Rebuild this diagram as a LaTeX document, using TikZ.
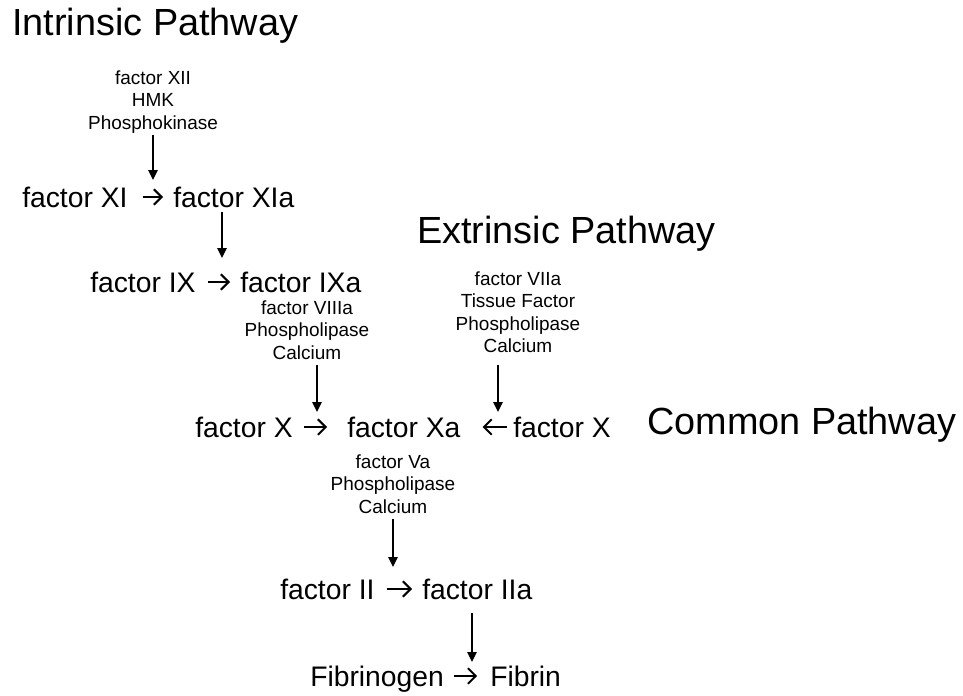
\documentclass[tikz,border=0pt]{standalone}
\usepackage{fontspec}
\setmainfont{Liberation Sans}
\usetikzlibrary{arrows.meta}

\begin{document}
\begin{tikzpicture}[x=0.025cm, y=-0.025cm,
  title/.style={anchor=west, inner sep=0pt, font=\fontsize{26.9}{32}\selectfont,
             text height=19.3pt, text depth=0pt},
  chem/.style={anchor=west, inner sep=0pt, font=\fontsize{20.1}{24}\selectfont,
             text height=14.4pt, text depth=0pt},
  helper/.style={anchor=north, inner sep=0pt, align=center,
             font=\fontsize{13.5}{16.1}\selectfont},
  react/.style={line width=1.4pt, -{Straight Barb[length=5.5pt, width=11pt]}},
  catal/.style={line width=1.3pt, -{Triangle[length=7pt, width=6.5pt]}},
]
\useasboundingbox (0,0) rectangle (963,696);

% pathway headings
\node[title] (intr) at (12, 22)  {Intrinsic Pathway};
\node[title] (extr) at (417, 230) {Extrinsic Pathway};
\node[title] (comm) at (647, 421) {Common Pathway};

% factors
\node[chem] (xi)   at (22, 197)  {factor XI};
\node[chem] (xia)  at (173, 197) {factor XIa};
\node[chem] (ix)   at (90, 282)  {factor IX};
\node[chem] (ixa)  at (240, 282) {factor IXa};
\node[chem] (x)    at (195, 427) {factor X};
\node[chem] (xa)   at (347, 427) {factor Xa};
\node[chem] (xe)   at (513, 427) {factor X};
\node[chem] (ii)   at (280, 589) {factor II};
\node[chem] (iia)  at (422, 589) {factor IIa};
\node[chem] (fgen) at (310, 676) {Fibrinogen};
\node[chem] (fib)  at (490, 676) {Fibrin};

% cofactors
\node[helper] (kin)  at (153, 70)  {factor XII\\HMK\\Phosphokinase};
\node[helper] (viii) at (307, 300) {factor VIIIa\\Phospholipase\\Calcium};
\node[helper] (ext)  at (518, 271) {factor VIIa\\Tissue Factor\\Phospholipase\\Calcium};
\node[helper] (va)   at (393, 454) {factor Va\\Phospholipase\\Calcium};

% conversions
\draw[react, shorten <=10.7pt, shorten >=7.1pt] (xi) -- (xia);
\draw[react, shorten <=8.5pt, shorten >=7.1pt] (ix) -- (ixa);
\draw[react, shorten <=7.8pt, shorten >=14.2pt] (x) -- (xa);
\draw[react, shorten <=4.3pt, shorten >=15.6pt] (xe) -- (xa);
\draw[react, shorten <=8.5pt, shorten >=7.1pt] (ii) -- (iia);
\draw[react, shorten <=7.1pt, shorten >=9.2pt] (fgen) -- (fib);

% activation arrows
\coordinate (h1) at (153, 180);
\coordinate (h2) at (222, 258);
\coordinate (h3) at (317, 412);
\coordinate (h4) at (498, 412);
\coordinate (h5) at (393, 567);
\coordinate (h6) at (472, 662);
\draw[catal, shorten <=0.7pt] (h1 |- kin.south) -- (h1);
\draw[catal, shorten <=3.5pt] (h2 |- xia.south) -- (h2);
\draw[catal, shorten <=4pt]   (h3 |- viii.south) -- (h3);
\draw[catal, shorten <=8pt]   (h4 |- ext.south) -- (h4);
\draw[catal, shorten <=3.5pt] (h5 |- va.south) -- (h5);
\draw[catal, shorten <=10pt]  (h6 |- iia.south) -- (h6);
\end{tikzpicture}
\end{document}
